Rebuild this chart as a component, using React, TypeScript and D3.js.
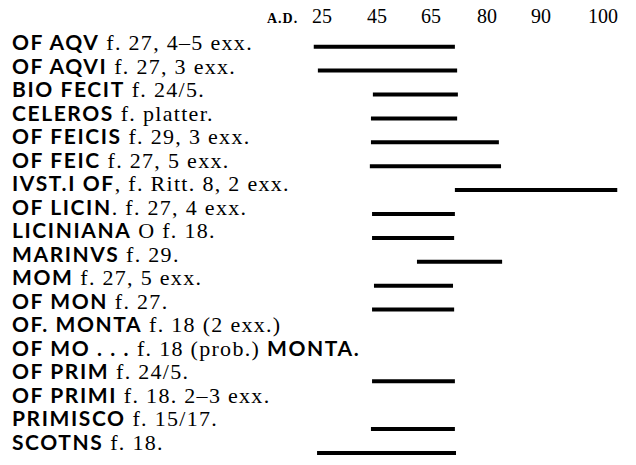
import React from "react";
import * as d3 from "d3";

const tickYears = [25, 45, 65, 80, 90, 100];
const stamps = [
  "OF AQV", "OF AQVI", "BIO FECIT", "CELEROS", "OF FEICIS", "OF FEIC",
  "IVST.I OF", "OF LICIN", "LICINIANA", "MARINVS", "MOM", "OF MON",
  "OF. MONTA", "OF MO . . .", "OF PRIM", "OF PRIMI", "PRIMISCO", "SCOTNS",
];
const notes = [
  " f. 27, 4–5 exx.", " f. 27, 3 exx.", " f. 24/5.", " f. platter.", " f. 29, 3 exx.", " f. 27, 5 exx.",
  ", f. Ritt. 8, 2 exx.", ". f. 27, 4 exx.", " O f. 18.", " f. 29.", " f. 27, 5 exx.", " f. 27.",
  " f. 18 (2 exx.)", " f. 18 (prob.) ", " f. 24/5.", " f. 18. 2–3 exx.", " f. 15/17.", " f. 18.",
];
const trailing = ["", "", "", "", "", "", "", "", "", "", "", "", "", "MONTA.", "", "", "", ""];
const startYear: (number | null)[] = [22, 23.5, 43.5, 42.8, 42.8, 42.4, 71.4, 43.2, 43.2, 59.8, 43.9, 43.2, null, null, 43.2, null, 42.8, 23.2];
const endYear: (number | null)[] = [71.4, 72, 72.2, 72, 82.2, 82.6, 102.3, 71.4, 71.2, 82.8, 70.9, 71.2, null, null, 71.4, null, 71.4, 71.7];

const W = 636;
const H = 465;
const SANS = "Lato, 'DejaVu Sans', sans-serif";
const SERIF = "'Liberation Serif', 'Times New Roman', serif";

export default function App() {
  const x = d3.scaleLinear().domain(tickYears).range([322, 377, 431, 487, 541, 603]);
  const idx = stamps.map((_, i) => i);
  const yText = d3.scalePoint<number>().domain(idx).range([50, 450]);
  const yBar = d3.scalePoint<number>().domain(idx).range([46.7, 453]);

  return (
    <svg width={W} height={H} style={{ position: "absolute", left: 0, top: 0, background: "#fff" }}>
      <text x={267} y={23} fontFamily={SERIF} fontSize={14} fontWeight={700} fill="#000" letterSpacing={1}>A.D.</text>
      {tickYears.map((t) => (
        <text key={t} x={x(t)} y={23} textAnchor="middle" fontFamily={SERIF} fontSize={20} fill="#000">
          {t}
        </text>
      ))}
      {idx.map((i) => (
        <text key={"l" + i} x={12} y={yText(i)} fill="#000">
          <tspan fontFamily={SANS} fontWeight={700} fontSize={21} letterSpacing={1.6}>{stamps[i]}</tspan>
          <tspan fontFamily={SERIF} fontSize={22} letterSpacing={1.3}>{notes[i]}</tspan>
          {trailing[i] ? (
            <tspan fontFamily={SANS} fontWeight={700} fontSize={21} letterSpacing={1.6}>{trailing[i]}</tspan>
          ) : null}
        </text>
      ))}
      {idx.map((i) =>
        startYear[i] != null && endYear[i] != null ? (
          <line
            key={"b" + i}
            x1={x(startYear[i] as number)}
            x2={x(endYear[i] as number)}
            y1={yBar(i)}
            y2={yBar(i)}
            stroke="#000"
            strokeWidth={4}
          />
        ) : null
      )}
    </svg>
  );
}
